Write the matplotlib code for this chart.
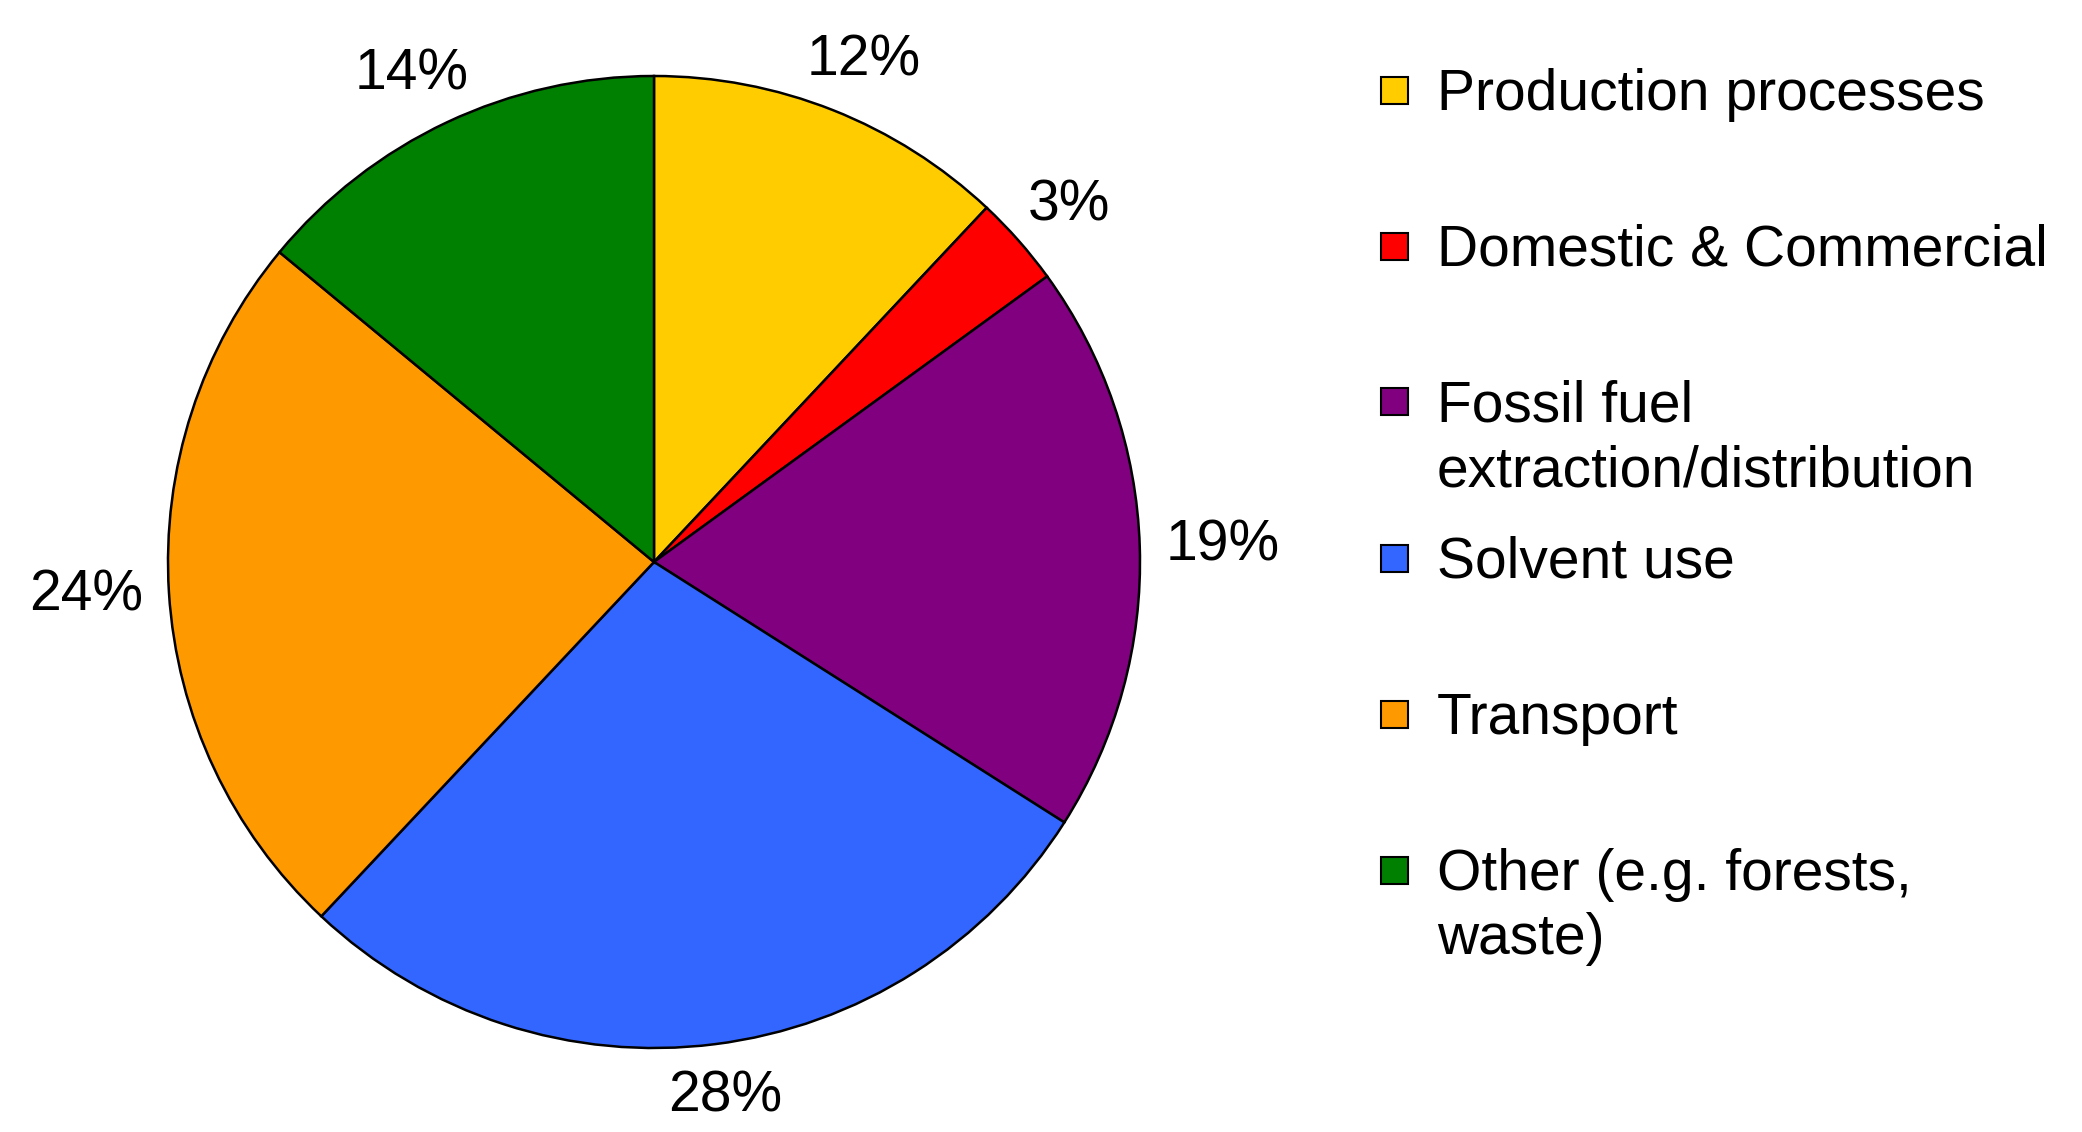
import matplotlib
matplotlib.use("Agg")
import matplotlib.pyplot as plt
from matplotlib.patches import Rectangle
import numpy as np

# data
categories = ["Production processes", "Domestic & Commercial",
              "Fossil fuel\nextraction/distribution", "Solvent use",
              "Transport", "Other (e.g. forests,\nwaste)"]
shares = [12, 3, 19, 28, 24, 14]
colors = ["#FFCC00", "#FF0000", "#800080", "#3366FF", "#FF9900", "#008000"]

plt.rcParams["font.family"] = ["Liberation Sans", "DejaVu Sans"]

W, H = 2082, 1132
fig = plt.figure(figsize=(W / 100, H / 100), dpi=100)
fig.patch.set_facecolor("white")

# pie centre and radius in pixels
cx, cy, R = 654, 562, 486
ax_w = 1300
ax = fig.add_axes([0, 0, ax_w / W, 1])
wedges, _ = ax.pie(shares, colors=colors, startangle=90, counterclock=False,
                   wedgeprops=dict(edgecolor="black", linewidth=1.8))
ax.set_xlim(-cx / R, (ax_w - cx) / R)
ax.set_ylim(-(H - cy) / R, cy / R)
ax.set_aspect("equal")
ax.axis("off")

# percent labels outside the pie, nudged so the box sits just past the edge
fontsize = 41
gap = 26  # px between pie edge and label box
texts = []
for w, s in zip(wedges, shares):
    mid = np.deg2rad((w.theta1 + w.theta2) / 2)
    t = ax.annotate(f"{s}%", xy=(np.cos(mid), np.sin(mid)),
                    xytext=(0, 0), textcoords="offset pixels",
                    ha="center", va="center", fontsize=fontsize)
    texts.append((t, mid))

fig.canvas.draw()
renderer = fig.canvas.get_renderer()
for t, mid in texts:
    bb = t.get_window_extent(renderer)
    ox = np.cos(mid) * (gap + bb.width / 2)
    oy = np.sin(mid) * (gap + bb.height / 2)
    t.set_position((ox, oy))

# legend drawn by hand: fixed step per entry like the original
y0 = 90
step = 156
sq = 27
sq_x = 1381
txt_x = 1437
for i, (lab, col) in enumerate(zip(categories, colors)):
    yc = y0 + i * step
    fig.patches.append(Rectangle((sq_x / W, 1 - (yc + sq / 2) / H), sq / W, sq / H,
                                 transform=fig.transFigure, facecolor=col,
                                 edgecolor="black", linewidth=1.5))
    fig.text(txt_x / W, 1 - (yc - 22) / H, lab, ha="left", va="top",
             fontsize=fontsize, linespacing=1.25)

fig.savefig("out.png", dpi=100, facecolor="white")
